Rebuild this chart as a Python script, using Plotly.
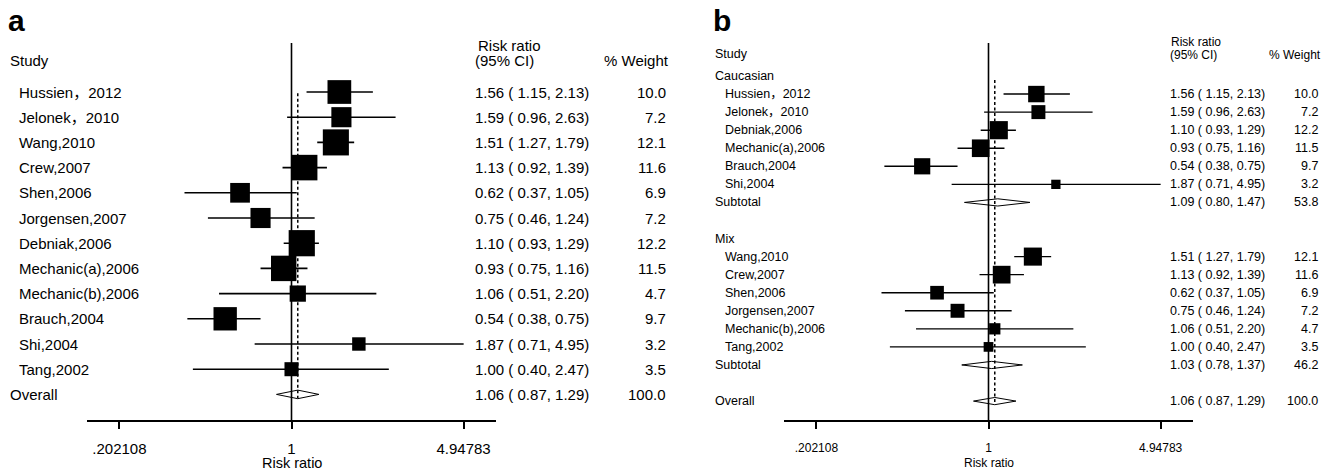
import math
import plotly.graph_objects as go

W, H = 1337, 472

# ---------------- data: panel a ----------------
studies_a = ["Hussien，2012", "Jelonek，2010", "Wang,2010", "Crew,2007", "Shen,2006",
             "Jorgensen,2007", "Debniak,2006", "Mechanic(a),2006", "Mechanic(b),2006",
             "Brauch,2004", "Shi,2004", "Tang,2002"]
rr_a = [1.56, 1.59, 1.51, 1.13, 0.62, 0.75, 1.10, 0.93, 1.06, 0.54, 1.87, 1.00]
lo_a = [1.15, 0.96, 1.27, 0.92, 0.37, 0.46, 0.93, 0.75, 0.51, 0.38, 0.71, 0.40]
hi_a = [2.13, 2.63, 1.79, 1.39, 1.05, 1.24, 1.29, 1.16, 2.20, 0.75, 4.95, 2.47]
wt_a = [10.0, 7.2, 12.1, 11.6, 6.9, 7.2, 12.2, 11.5, 4.7, 9.7, 3.2, 3.5]

overall_rr, overall_lo, overall_hi, overall_wt = 1.06, 0.87, 1.29, 100.0

# ---------------- data: panel b ----------------
group_names = ["Caucasian", "Mix"]
cau_studies = ["Hussien，2012", "Jelonek，2010", "Debniak,2006", "Mechanic(a),2006",
               "Brauch,2004", "Shi,2004"]
cau_rr = [1.56, 1.59, 1.10, 0.93, 0.54, 1.87]
cau_lo = [1.15, 0.96, 0.93, 0.75, 0.38, 0.71]
cau_hi = [2.13, 2.63, 1.29, 1.16, 0.75, 4.95]
cau_wt = [10.0, 7.2, 12.2, 11.5, 9.7, 3.2]
cau_sub_rr, cau_sub_lo, cau_sub_hi, cau_sub_wt = 1.09, 0.80, 1.47, 53.8

mix_studies = ["Wang,2010", "Crew,2007", "Shen,2006", "Jorgensen,2007",
               "Mechanic(b),2006", "Tang,2002"]
mix_rr = [1.51, 1.13, 0.62, 0.75, 1.06, 1.00]
mix_lo = [1.27, 0.92, 0.37, 0.46, 0.51, 0.40]
mix_hi = [1.79, 1.39, 1.05, 1.24, 2.20, 2.47]
mix_wt = [12.1, 11.6, 6.9, 7.2, 4.7, 3.5]
mix_sub_rr, mix_sub_lo, mix_sub_hi, mix_sub_wt = 1.03, 0.78, 1.37, 46.2

tick_vals = [0.202108, 1, 4.94783]
tick_text = [".202108", "1", "4.94783"]

FONT = "Liberation Sans, Arial, Noto Sans CJK SC, sans-serif"


def px(x):
    return x / W


def py(y):
    return 1 - y / H


def ci_txt(r, l, h):
    return f"{r:.2f} ( {l:.2f}, {h:.2f})"


fig = go.Figure()
annotations = []

# ---------------- row structure ----------------
rows_a = []
for s, r, l, h, w in zip(studies_a, rr_a, lo_a, hi_a, wt_a):
    rows_a.append(dict(kind="study", label=s, rr=r, lo=l, hi=h, wt=w))
rows_a.append(dict(kind="overall", label="Overall", rr=overall_rr, lo=overall_lo,
                   hi=overall_hi, wt=overall_wt))

rows_b = []
groups = [
    (group_names[0], cau_studies, cau_rr, cau_lo, cau_hi, cau_wt,
     (cau_sub_rr, cau_sub_lo, cau_sub_hi, cau_sub_wt)),
    (group_names[1], mix_studies, mix_rr, mix_lo, mix_hi, mix_wt,
     (mix_sub_rr, mix_sub_lo, mix_sub_hi, mix_sub_wt)),
]
for gname, ss, rs, ls, hs, ws, sub in groups:
    rows_b.append(dict(kind="group", label=gname))
    for s, r, l, h, w in zip(ss, rs, ls, hs, ws):
        rows_b.append(dict(kind="study", label=s, rr=r, lo=l, hi=h, wt=w))
    rows_b.append(dict(kind="sub", label="Subtotal", rr=sub[0], lo=sub[1], hi=sub[2], wt=sub[3]))
    rows_b.append(dict(kind="blank"))
rows_b.append(dict(kind="overall", label="Overall", rr=overall_rr, lo=overall_lo,
                   hi=overall_hi, wt=overall_wt))

panels = [
    dict(rows=rows_a, xa="x", ya="y", fs=15, hfs=15, tfs=15, ttfs=14.5, sq=7.5, dh=0.17,
         lw=1.6, lab_head=8, lab_study=17, ci_x=473, wt_x=668, dash_top=0.05,
         x0=87, x1=496, row0=92, step=25.2, stand=7,
         letter="a", letter_x=6, title_y=463,
         hdr=dict(study_y=61, rr_y=46, ci_y=61, wt_y=61, rr_x=476, wt_r=671)),
    dict(rows=rows_b, xa="x2", ya="y2", fs=12.5, hfs=12, tfs=12, ttfs=12, sq=5.2, dh=0.2,
         lw=1.4, lab_head=713, lab_study=723, ci_x=1168, wt_x=1320, dash_top=0.22,
         x0=784, x1=1193, row0=76, step=18.06, stand=9,
         letter="b", letter_x=711, title_y=463,
         hdr=dict(study_y=54, rr_y=42, ci_y=55, wt_y=55, rr_x=1169, wt_r=1323)),
]

TOP, BOT = 43, 420
LN_HALF = 1.9
log_half = LN_HALF / math.log(10)

for k, p in enumerate(panels):
    rows = p["rows"]
    xa, ya = p["xa"], p["ya"]
    # CI lines
    lx, ly = [], []
    sx, sy, ss = [], [], []
    for i, r in enumerate(rows):
        if r["kind"] == "study":
            lx += [r["lo"], r["hi"], None]
            ly += [i, i, None]
            sx.append(r["rr"])
            sy.append(i)
            ss.append(p["sq"] * math.sqrt(r["wt"]))
    fig.add_trace(go.Scatter(x=lx, y=ly, mode="lines", xaxis=xa, yaxis=ya,
                             line=dict(color="black", width=p["lw"]),
                             hoverinfo="skip", showlegend=False))
    fig.add_trace(go.Scatter(x=sx, y=sy, mode="markers", xaxis=xa, yaxis=ya,
                             opacity=1,
                             marker=dict(symbol="square", size=ss, color="#000000",
                                         opacity=1, line=dict(width=0, color="#000000")),
                             showlegend=False))
    # diamonds
    for i, r in enumerate(rows):
        if r["kind"] in ("sub", "overall"):
            d = p["dh"]
            fig.add_trace(go.Scatter(
                x=[r["lo"], r["rr"], r["hi"], r["rr"], r["lo"]],
                y=[i, i - d, i, i + d, i],
                mode="lines", fill="toself", fillcolor="white",
                xaxis=xa, yaxis=ya, line=dict(color="black", width=1),
                hoverinfo="skip", showlegend=False))
    # dashed overall line
    n_last = len(rows) - 1
    fig.add_trace(go.Scatter(x=[overall_rr, overall_rr], y=[p["dash_top"], n_last + 0.15],
                             mode="lines", xaxis=xa, yaxis=ya,
                             line=dict(color="black", width=1.5, dash="3px,2.5px"),
                             hoverinfo="skip", showlegend=False))
    # null line at 1
    fig.add_shape(type="line", xref=xa, yref=f"{ya} domain", x0=1, x1=1, y0=0, y1=1,
                  line=dict(color="black", width=1.6), layer="above")

    # text
    fnt = dict(family=FONT, size=p["fs"], color="black")
    hfnt = dict(family=FONT, size=p["hfs"], color="black")
    for i, r in enumerate(rows):
        if r["kind"] == "blank":
            continue
        lx_ = p["lab_study"] if r["kind"] == "study" else p["lab_head"]
        annotations.append(dict(x=px(lx_), y=i, xref="paper", yref=ya, text=r["label"],
                                showarrow=False, xanchor="left", yanchor="middle", font=fnt))
        if r["kind"] == "group":
            continue
        annotations.append(dict(x=px(p["ci_x"]), y=i, xref="paper", yref=ya,
                                text=ci_txt(r["rr"], r["lo"], r["hi"]),
                                showarrow=False, xanchor="left", yanchor="middle", font=fnt))
        annotations.append(dict(x=px(p["wt_x"]), y=i, xref="paper", yref=ya,
                                text=f"{r['wt']:.1f}",
                                showarrow=False, xanchor="right", yanchor="middle", font=fnt))
    hd = p["hdr"]
    annotations.append(dict(x=px(p["lab_head"]), y=py(hd["study_y"]), xref="paper", yref="paper",
                            text="Study", showarrow=False, xanchor="left", yanchor="middle", font=fnt))
    annotations.append(dict(x=px(hd["rr_x"]), y=py(hd["rr_y"]), xref="paper", yref="paper",
                            text="Risk ratio", showarrow=False, xanchor="left", yanchor="middle",
                            font=hfnt))
    annotations.append(dict(x=px(p["ci_x"]), y=py(hd["ci_y"]), xref="paper", yref="paper",
                            text="(95% CI)", showarrow=False, xanchor="left", yanchor="middle",
                            font=hfnt))
    annotations.append(dict(x=px(hd["wt_r"]), y=py(hd["wt_y"]), xref="paper", yref="paper",
                            text="% Weight", showarrow=False, xanchor="right", yanchor="middle",
                            font=hfnt))
    annotations.append(dict(x=px((p["x0"] + p["x1"]) / 2), y=py(p["title_y"]), xref="paper",
                            yref="paper", text="Risk ratio", showarrow=False, xanchor="center",
                            yanchor="middle",
                            font=dict(family=FONT, size=p["ttfs"], color="black")))
    annotations.append(dict(x=px(p["letter_x"]), y=py(2), xref="paper", yref="paper",
                            text=f"<b>{p['letter']}</b>", showarrow=False, xanchor="left",
                            yanchor="top", font=dict(family=FONT, size=30, color="black")))

    # axes
    r_top = (TOP - p["row0"]) / p["step"]
    r_bot = (BOT - p["row0"]) / p["step"]
    xkey = "xaxis" if k == 0 else "xaxis2"
    ykey = "yaxis" if k == 0 else "yaxis2"
    fig.update_layout(**{
        xkey: dict(domain=[px(p["x0"]), px(p["x1"])], anchor=ya, type="log",
                   range=[-log_half, log_half], showline=True, linecolor="black",
                   linewidth=1.6, showgrid=False, zeroline=False, ticks="outside",
                   ticklen=7, tickwidth=1.6, tickcolor="black",
                   tickvals=tick_vals, ticktext=tick_text, ticklabelstandoff=p["stand"],
                   tickfont=dict(family=FONT, size=p["tfs"], color="black")),
        ykey: dict(domain=[py(BOT), py(TOP)], anchor=xa, range=[r_bot, r_top],
                   visible=False, showgrid=False, zeroline=False),
    })

fig.update_layout(width=W, height=H, margin=dict(l=0, r=0, t=0, b=0),
                  paper_bgcolor="white", plot_bgcolor="white",
                  annotations=annotations, showlegend=False,
                  font=dict(family=FONT, color="black"))

# remove the default page margin so the figure fills the window exactly
fig.write_html("out.html", config={"displayModeBar": False},
               post_script="document.body.style.margin='0';")
